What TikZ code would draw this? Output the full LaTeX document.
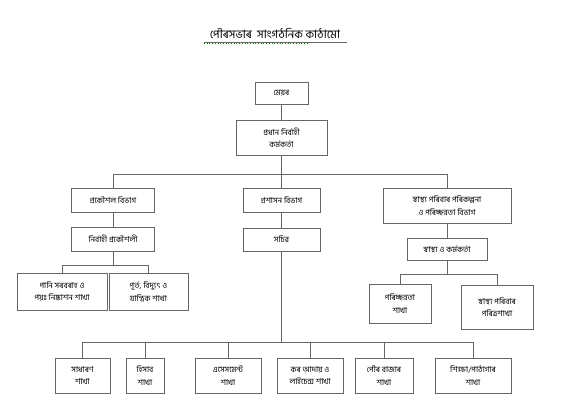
\documentclass[tikz,border=0pt]{standalone}
\usepackage{fontspec}
\newfontfamily\bnfont[Script=Bengali]{Hind Siliguri}

\tikzset{
  unit/.style={draw=black!60, line width=0.55pt, fill=white, align=center, inner sep=1pt,
    font=\bnfont\fontsize{8}{12.5}\selectfont},
  link/.style={draw=black!60, line width=0.55pt}
}

\begin{document}
\begin{tikzpicture}[x=1pt, y=-1pt]
    \useasboundingbox (0,0) rectangle (572,412);
    % title
    \node[font=\bnfont\fontsize{11.5}{13}\selectfont, inner sep=0pt] (title) at (275,33) {পৌৰসভাৰ\ \ সাংগঠনিক কাঠামো};
    \draw[black!60, line width=0.6pt] (204,42) -- (347,42);
    \draw[green!50!black, dotted, line width=0.7pt] (204,43.2) -- (307,43.2);
    % top
    \node[unit, minimum width=53pt, minimum height=22pt] (mayor) at (281.5,93) {মেয়ৰ};
    \node[unit, minimum width=91pt, minimum height=35pt] (ceo) at (281.5,137.5) {প্ৰধান নিৰ্বাহী\\কৰ্মকৰ্তা};
    % departments
    \node[unit, minimum width=83pt, minimum height=24pt] (engdept) at (113,200) {প্ৰকৌশল বিভাগ};
    \node[unit, minimum width=77pt, minimum height=24pt] (admindept) at (281.5,200) {প্ৰশাসন বিভাগ};
    \node[unit, minimum width=128pt, minimum height=35pt] (healthdept) at (447,205.5) {স্বাস্থ্য পৰিবাৰ পৰিকল্পনা\\ও পৰিচ্ছন্নতা বিভাগ};
    % officers
    \node[unit, minimum width=83pt, minimum height=24pt] (exeng) at (113,239) {নিৰ্বাহী প্ৰকৌশলী};
    \node[unit, minimum width=77pt, minimum height=23pt] (secy) at (281.5,239.5) {সচিৱ};
    \node[unit, minimum width=80pt, minimum height=22pt] (hofficer) at (447,249) {স্বাস্থ্য ও কৰ্মকৰ্তা};
    % engineering branches
    \node[unit, minimum width=90pt, minimum height=37pt] (water) at (62,291.5) {পানি সৰবৰাহ ও\\পয়ঃ নিষ্কাশন শাখা};
    \node[unit, minimum width=79pt, minimum height=37pt] (works) at (148.5,291.5) {পূৰ্ত, বিদ্যুৎ ও\\যান্ত্ৰিক শাখা};
    % health branches
    \node[unit, minimum width=62pt, minimum height=39pt] (clean) at (400,303.5) {পৰিচ্ছন্নতা\\শাখা};
    \node[unit, minimum width=72pt, minimum height=44pt] (family) at (497,307) {স্বাস্থ্য পৰিবাৰ\\পৰিত্ৰশাখা};
    % administration branches
    \node[unit, minimum width=55pt, minimum height=35pt] (general) at (82.5,375.5) {সাধাৰণ\\শাখা};
    \node[unit, minimum width=38pt, minimum height=35pt] (accounts) at (145,375.5) {হিসাব\\শাখা};
    \node[unit, minimum width=66pt, minimum height=35pt] (assess) at (228,375.5) {এসেসমেন্ট\\শাখা};
    \node[unit, minimum width=66pt, minimum height=35pt] (tax) at (310,375.5) {কৰ আদায় ও\\লাইচেন্স শাখা};
    \node[unit, minimum width=58pt, minimum height=35pt] (market) at (384,375.5) {পৌৰ বাজাৰ\\শাখা};
    \node[unit, minimum width=76pt, minimum height=35pt] (library) at (473,375.5) {শিক্ষা/পাঠাগাৰ\\শাখা};
    % bus points
    \coordinate (topbus) at (281.5,174);
    \coordinate (engbus) at (113,265);
    \coordinate (healthbus) at (447,274);
    \coordinate (adminbus) at (281.5,342);
    % connectors
    \draw[link] (mayor) -- (ceo);
    \draw[link] (ceo) -- (topbus);
    \draw[link] (topbus) -| (engdept);
    \draw[link] (topbus) -- (admindept);
    \draw[link] (topbus) -| (healthdept);
    \draw[link] (engdept) -- (exeng);
    \draw[link] (admindept) -- (secy);
    \draw[link] (healthdept) -- (hofficer);
    \draw[link] (exeng) -- (engbus);
    \draw[link] (engbus) -| (water);
    \draw[link] (engbus) -| (works);
    \draw[link] (hofficer) -- (healthbus);
    \draw[link] (healthbus) -| (clean);
    \draw[link] (healthbus) -| (family);
    \draw[link] (secy) -- (adminbus);
    \foreach \b in {general,accounts,assess,tax,market,library}
        \draw[link] (adminbus) -| (\b);
\end{tikzpicture}
\end{document}
